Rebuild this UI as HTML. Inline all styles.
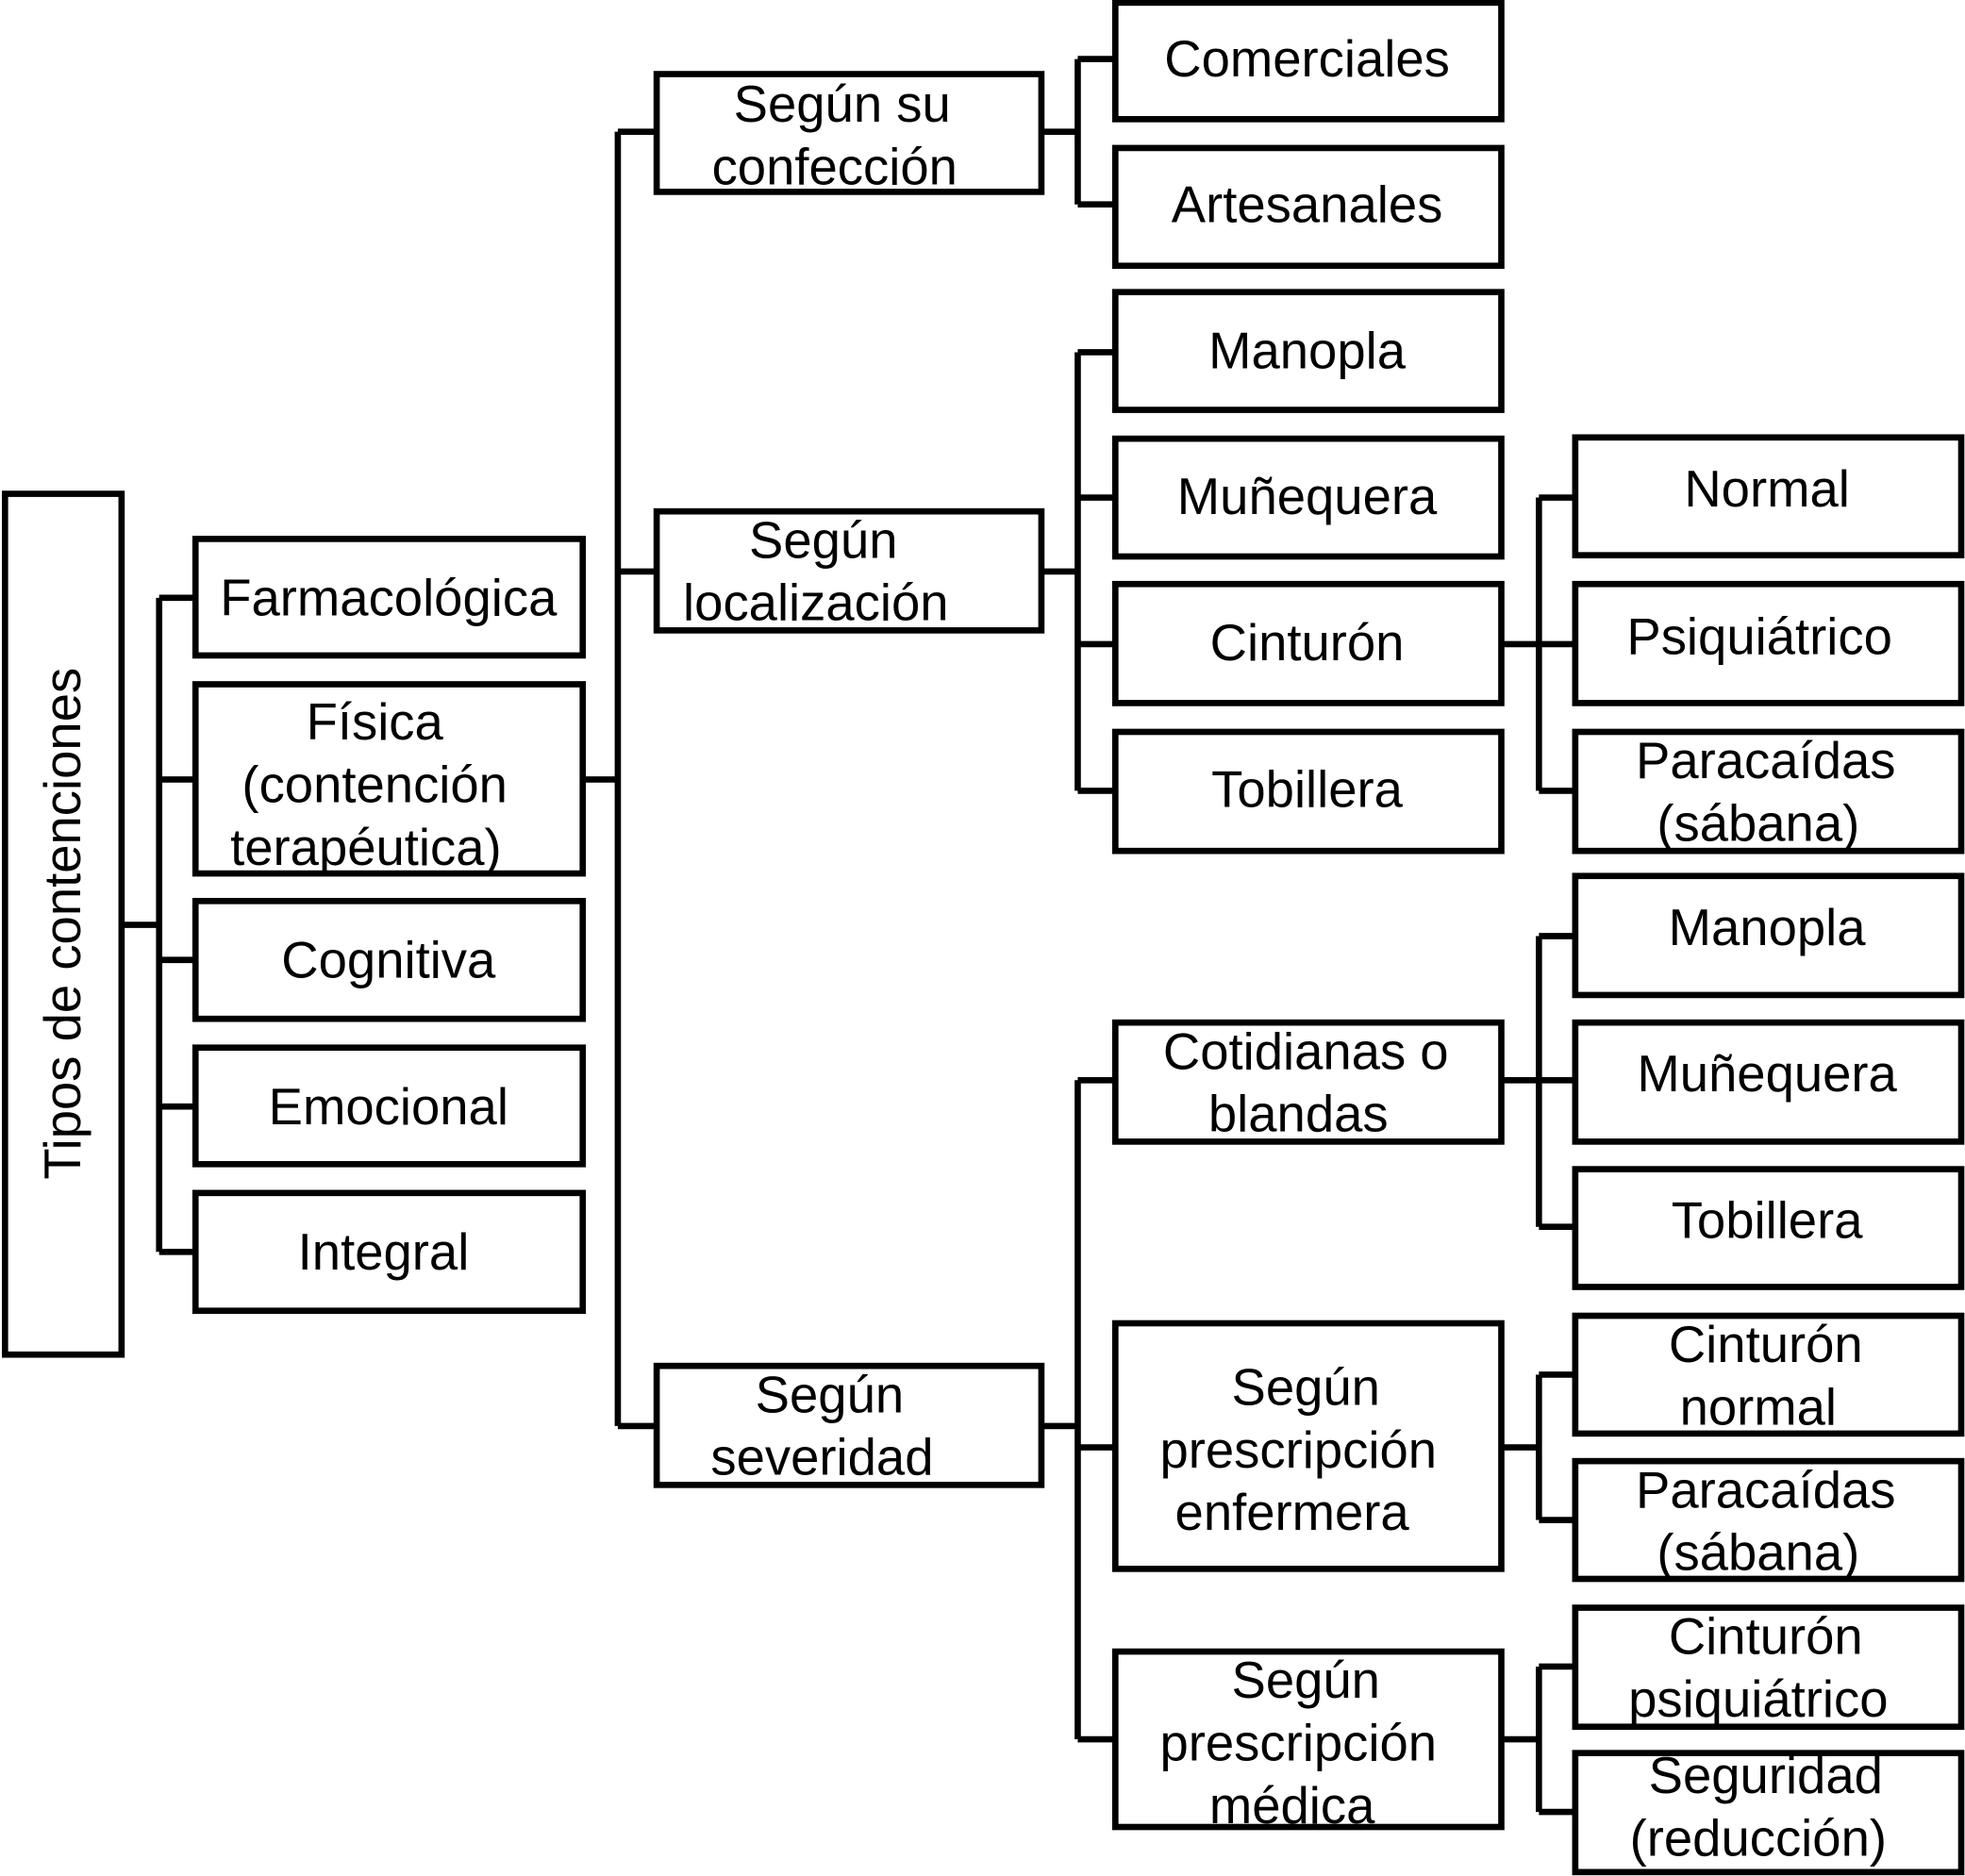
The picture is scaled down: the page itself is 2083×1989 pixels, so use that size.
<!DOCTYPE html>
<html><head><meta charset="utf-8"><style>
html,body{margin:0;padding:0;background:#fff;}
svg{display:block;}
text{font-family:"Liberation Sans",Arial,sans-serif;font-size:41px;fill:#000;text-anchor:middle;}
</style></head><body>
<svg width="2083" height="1989" viewBox="0 0 1568 1497" xmlns="http://www.w3.org/2000/svg">
<g fill="none" stroke="#000" stroke-width="5">
<rect x="4" y="394" width="93" height="687"/>
<rect x="156" y="430" width="309" height="93"/>
<rect x="156" y="546" width="309" height="151"/>
<rect x="156" y="719" width="309" height="94"/>
<rect x="156" y="836" width="309" height="93"/>
<rect x="156" y="952" width="309" height="94"/>
<rect x="524" y="59" width="307" height="94"/>
<rect x="524" y="408" width="307" height="95"/>
<rect x="524" y="1090" width="307" height="95"/>
<rect x="890" y="2" width="308" height="93"/>
<rect x="890" y="118" width="308" height="94"/>
<rect x="890" y="233" width="308" height="94"/>
<rect x="890" y="350" width="308" height="94"/>
<rect x="890" y="466" width="308" height="95"/>
<rect x="890" y="584" width="308" height="95"/>
<rect x="890" y="816" width="308" height="95"/>
<rect x="890" y="1056" width="308" height="196"/>
<rect x="890" y="1318" width="308" height="140"/>
<rect x="1257" y="349" width="308" height="94"/>
<rect x="1257" y="466" width="308" height="95"/>
<rect x="1257" y="584" width="308" height="95"/>
<rect x="1257" y="699" width="308" height="95"/>
<rect x="1257" y="816" width="308" height="95"/>
<rect x="1257" y="933" width="308" height="94"/>
<rect x="1257" y="1050" width="308" height="94"/>
<rect x="1257" y="1166" width="308" height="94"/>
<rect x="1257" y="1283" width="308" height="95"/>
<rect x="1257" y="1399" width="308" height="95"/>
<path d="M97 738H127M127 477V999M127 477H156M127 622H156M127 766H156M127 883H156M127 999H156"/>
<path d="M465 622H493M493 105V1138M493 105H524M493 456H524M493 1138H524"/>
<path d="M831 105H860M860 47V163M860 47H890M860 163H890"/>
<path d="M831 456H860M860 281V631M860 281H890M860 397H890M860 514H890M860 631H890"/>
<path d="M1198 514H1228M1228 397V631M1228 397H1257M1228 514H1257M1228 631H1257"/>
<path d="M831 1138H860M860 862V1388M860 862H890M860 1155H890M860 1388H890"/>
<path d="M1198 862H1228M1228 747V979M1228 747H1257M1228 862H1257M1228 979H1257"/>
<path d="M1198 1155H1228M1228 1097V1213M1228 1097H1257M1228 1213H1257"/>
<path d="M1198 1388H1228M1228 1330V1446M1228 1330H1257M1228 1446H1257"/>
</g>
<text transform="translate(64,737) rotate(-90)">Tipos de contenciones</text>
<text x="310" y="491">Farmacológica</text>
<text x="299" y="590">Física</text>
<text x="299" y="640">(contención</text>
<text x="292" y="690">terapéutica)</text>
<text x="310" y="780">Cognitiva</text>
<text x="310" y="897">Emocional</text>
<text x="306" y="1013">Integral</text>
<text x="672" y="97">Según su</text>
<text x="666" y="147">confección</text>
<text x="657" y="445">Según</text>
<text x="651" y="495">localización</text>
<text x="662" y="1127">Según</text>
<text x="656" y="1177">severidad</text>
<text x="1043" y="61">Comerciales</text>
<text x="1043" y="177">Artesanales</text>
<text x="1043" y="294">Manopla</text>
<text x="1043" y="410">Muñequera</text>
<text x="1043" y="527">Cinturón</text>
<text x="1043" y="644">Tobillera</text>
<text x="1410" y="404">Normal</text>
<text x="1404" y="522">Psiquiátrico</text>
<text x="1409" y="621">Paracaídas</text>
<text x="1403" y="671">(sábana)</text>
<text x="1042" y="853">Cotidianas o</text>
<text x="1036" y="903">blandas</text>
<text x="1042" y="1121">Según</text>
<text x="1036" y="1171">prescripción</text>
<text x="1031" y="1221">enfermera</text>
<text x="1042" y="1355">Según</text>
<text x="1036" y="1405">prescripción</text>
<text x="1031" y="1455">médica</text>
<text x="1410" y="754">Manopla</text>
<text x="1410" y="871">Muñequera</text>
<text x="1410" y="988">Tobillera</text>
<text x="1409" y="1087">Cinturón</text>
<text x="1403" y="1137">normal</text>
<text x="1409" y="1203">Paracaídas</text>
<text x="1403" y="1253">(sábana)</text>
<text x="1409" y="1320">Cinturón</text>
<text x="1403" y="1370">psiquiátrico</text>
<text x="1409" y="1431">Seguridad</text>
<text x="1403" y="1481">(reducción)</text>
</svg>
</body></html>
